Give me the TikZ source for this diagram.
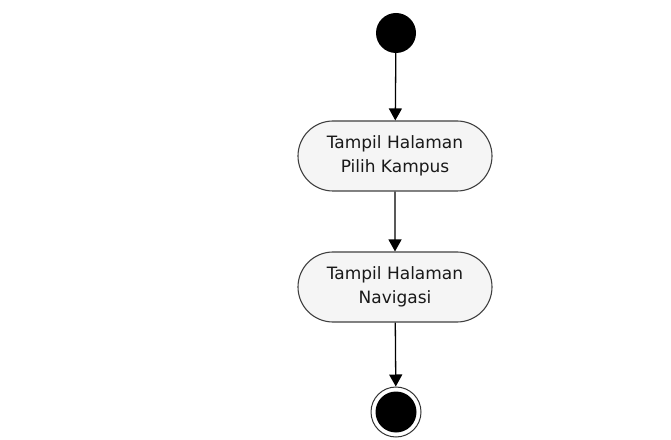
\documentclass[tikz,border=0pt]{standalone}
\usepackage{fontspec}
\setmainfont{DejaVu Sans}
\usetikzlibrary{arrows.meta,shapes.misc}
\definecolor{boxfill}{HTML}{F5F5F5}
\definecolor{boxline}{HTML}{404040}
\tikzset{
  actbox/.style={rounded rectangle, draw=boxline, fill=boxfill, line width=1.1pt,
    minimum width=194pt, minimum height=70pt, align=center,
    font=\fontsize{17}{23.5}\selectfont, inner sep=0pt, text=black!90},
  startnode/.style={circle, fill=black, minimum size=40pt, inner sep=0pt},
  endouter/.style={circle, draw=black!80, line width=1pt, fill=white, minimum size=50pt, inner sep=0pt},
  endinner/.style={circle, fill=black, minimum size=41pt, inner sep=0pt},
  flow/.style={line width=1.3pt, -{Triangle[width=13pt,length=12pt]}}
}
\begin{document}
\begin{tikzpicture}[x=1pt,y=1pt]
\useasboundingbox (0,0) rectangle (671,439);
\node[startnode] (start) at (396,406) {};
\node[actbox] (a1) at (395,283) {Tampil Halaman\\Pilih Kampus};
\node[actbox] (a2) at (395,152) {Tampil Halaman\\Navigasi};
\node[endouter] (end) at (396,27) {};
\node[endinner] (endin) at (end.center) {};
\draw[flow] (start) -- (a1);
\draw[flow] (a1) -- (a2);
\draw[flow] (a2) -- (end);
\end{tikzpicture}
\end{document}
